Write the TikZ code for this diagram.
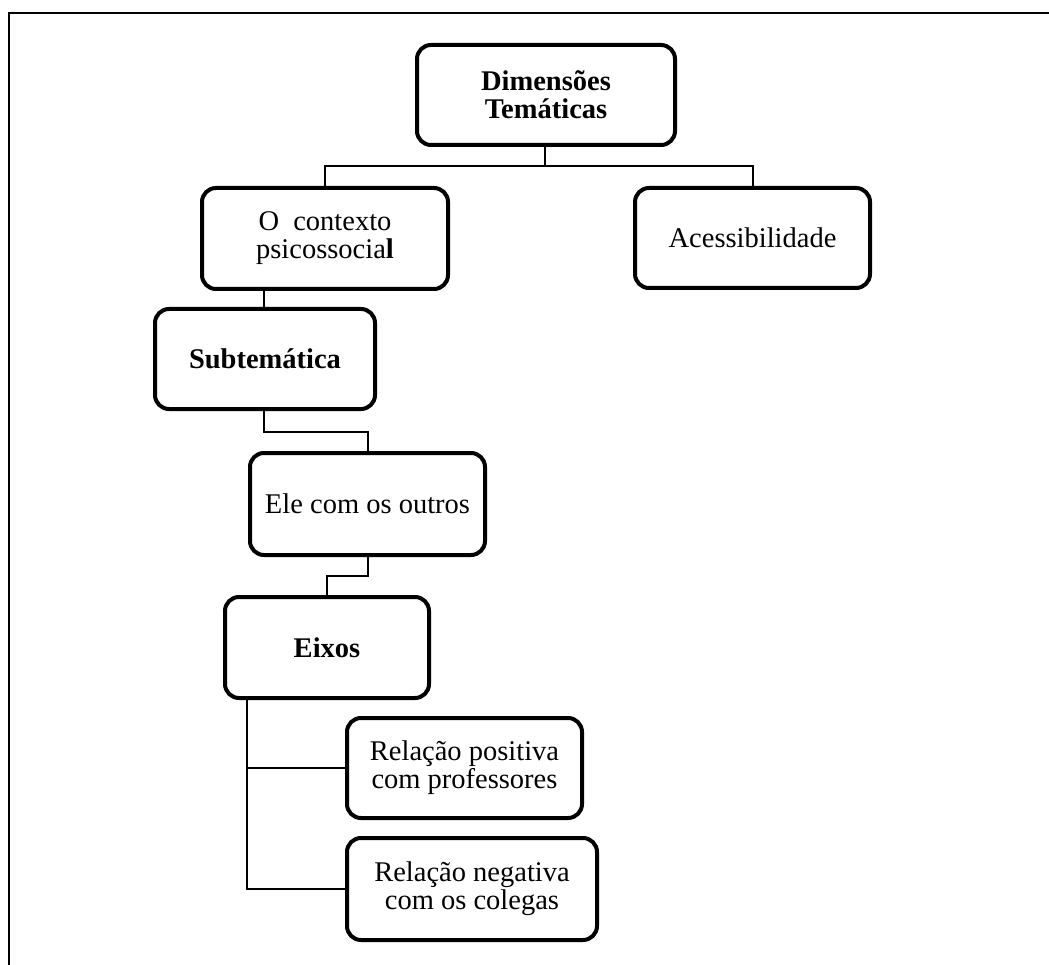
\documentclass[tikz,border=0pt]{standalone}
\usepackage{fontspec}
\setmainfont{Liberation Serif}
\begin{document}
\begin{tikzpicture}[x=1pt,y=-1pt,
  box/.style={draw, line width=4pt, rounded corners=14pt, inner sep=0pt,
    align=center, font=\fontsize{28.5}{28}\selectfont},
  link/.style={draw, line width=2pt},
  frameline/.style={draw, line width=2.6pt}]
\useasboundingbox (0,0) rectangle (1049,965);

% partial outer frame (top and left edges)
\draw[frameline] (1049,13) -- (9,13) -- (9,965);

% boxes
\node[box, minimum width=258pt, minimum height=100pt] (top) at (546,95)
  {\textbf{Dimensões}\\\textbf{Temáticas}};
\node[box, minimum width=246pt, minimum height=101pt] (b2) at (325,238.5)
  {O\hspace{0.5em}contexto\\psicossocia\textbf{l}};
\node[box, minimum width=235pt, minimum height=100pt] (b3) at (752.5,238)
  {Acessibilidade};
\node[box, minimum width=220pt, minimum height=100pt] (b4) at (265,359)
  {\textbf{Subtemática}};
\node[box, minimum width=235pt, minimum height=102pt] (b5) at (367.5,504)
  {Ele com os outros};
\node[box, minimum width=204pt, minimum height=101pt] (b6) at (327,647.5)
  {\textbf{Eixos}};
\node[box, minimum width=235pt, minimum height=100pt] (b7) at (464.5,768)
  {Relação positiva\\com professores};
\node[box, minimum width=250pt, minimum height=102pt] (b8) at (472,889)
  {Relação negativa\\com os colegas};

% connector anchor points
\coordinate (bus) at (545,166);
\coordinate (c24) at (264,0);
\coordinate (j45) at (264,432);
\coordinate (j56) at (367.5,576);
\coordinate (spine) at (247,0);

% connectors
\draw[link] (top.south -| bus) -- (bus);
\draw[link] (b2.north) |- (bus) -| (b3.north);
\draw[link] (b2.south -| c24) -- (b4.north -| c24);
\draw[link] (b4.south -| j45) -- (j45) -| (b5.north);
\draw[link] (b5.south) -- (j56) -| (b6.north);
\draw[link] (b6.south -| spine) |- (b7.west);
\draw[link] (b6.south -| spine) |- (b8.west);
\end{tikzpicture}
\end{document}
